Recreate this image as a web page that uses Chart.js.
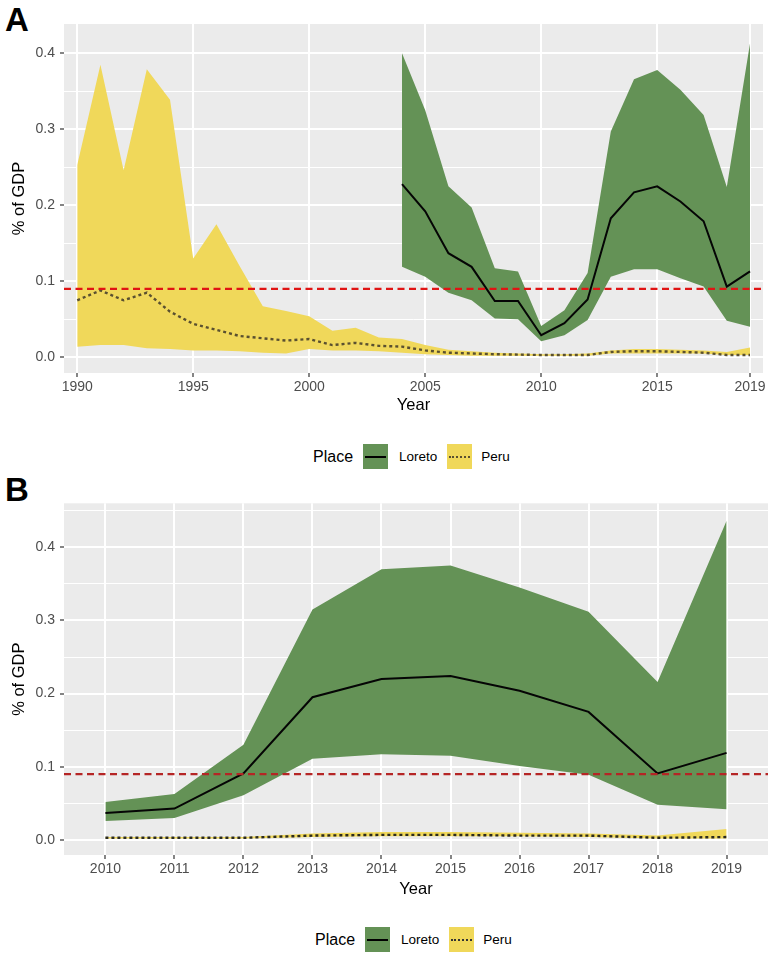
<!DOCTYPE html>
<html>
<head>
<meta charset="utf-8">
<script src="https://cdn.jsdelivr.net/npm/chart.js@4.4.1/dist/chart.umd.min.js"></script>
<style>
  body { margin: 0; background: #fff; font-family: "Liberation Sans", Arial, sans-serif; }
  .abs { position: absolute; }
  .tag { position: absolute; left: 5px; font-weight: bold; font-size: 33px; line-height: 33px; color: #000; }
  .legend { position: absolute; display: flex; align-items: center; height: 25px; color: #000; }
  .legend .ttl { font-size: 16px; margin-right: 10px; }
  .legend .lab { font-size: 13.5px; }
  .key { width: 25px; height: 25px; position: relative; }
  .key i { position: absolute; left: 2px; right: 2px; top: 11.5px; height: 0; }
</style>
</head>
<body>
<div class="tag" style="top:3px">A</div>
<div class="abs" style="left:0;top:0"><canvas id="chartA" width="777" height="415"></canvas></div>
<div class="legend" style="left:313px;top:444px">
  <span class="ttl">Place</span>
  <span class="key" style="background:rgb(100,146,86);margin-right:11px"><i style="border-top:2px solid #000"></i></span>
  <span class="lab" style="margin-right:10px">Loreto</span>
  <span class="key" style="background:rgb(240,216,90);margin-right:9px"><i style="border-top:2px dotted #5a5030"></i></span>
  <span class="lab">Peru</span>
</div>

<div class="tag" style="top:473px">B</div>
<div class="abs" style="left:0;top:480px"><canvas id="chartB" width="777" height="419"></canvas></div>
<div class="legend" style="left:315px;top:927px">
  <span class="ttl">Place</span>
  <span class="key" style="background:rgb(100,146,86);margin-right:11px"><i style="border-top:2px solid #000"></i></span>
  <span class="lab" style="margin-right:10px">Loreto</span>
  <span class="key" style="background:rgb(240,216,90);margin-right:9px"><i style="border-top:2px dotted #333"></i></span>
  <span class="lab">Peru</span>
</div>

<script>
// ---- panel A: 1990-2019 ----
const yearsA = [1990, 1991, 1992, 1993, 1994, 1995, 1996, 1997, 1998, 1999,
                2000, 2001, 2002, 2003, 2004, 2005, 2006, 2007, 2008, 2009,
                2010, 2011, 2012, 2013, 2014, 2015, 2016, 2017, 2018, 2019];
const peruMidA  = [0.075, 0.088, 0.075, 0.085, 0.060, 0.044, 0.036, 0.028, 0.025, 0.022,
                   0.024, 0.016, 0.019, 0.015, 0.014, 0.009, 0.006, 0.005, 0.004, 0.0035,
                   0.003, 0.003, 0.003, 0.007, 0.008, 0.008, 0.007, 0.006, 0.003, 0.003];
const peruHighA = [0.253, 0.385, 0.246, 0.379, 0.339, 0.130, 0.175, 0.120, 0.067, 0.061,
                   0.054, 0.035, 0.039, 0.026, 0.024, 0.016, 0.010, 0.008, 0.006, 0.005,
                   0.004, 0.004, 0.005, 0.009, 0.011, 0.011, 0.010, 0.009, 0.007, 0.013];
const peruLowA  = [0.014, 0.016, 0.016, 0.012, 0.011, 0.009, 0.009, 0.008, 0.006, 0.005,
                   0.011, 0.009, 0.009, 0.008, 0.006, 0.004, 0.003, 0.002, 0.002, 0.002,
                   0.002, 0.002, 0.002, 0.005, 0.005, 0.005, 0.005, 0.005, 0.003, 0.003];

const loretoYearsA = [2004, 2005, 2006, 2007, 2008, 2009, 2010, 2011,
                      2012, 2013, 2014, 2015, 2016, 2017, 2018, 2019];
const loretoMidA  = [0.228, 0.192, 0.137, 0.119, 0.074, 0.074, 0.029, 0.045,
                     0.076, 0.183, 0.217, 0.225, 0.205, 0.179, 0.093, 0.113];
const loretoHighA = [0.400, 0.325, 0.225, 0.197, 0.117, 0.113, 0.041, 0.062,
                     0.111, 0.297, 0.366, 0.378, 0.352, 0.319, 0.224, 0.413];
const loretoLowA  = [0.119, 0.106, 0.085, 0.075, 0.051, 0.050, 0.021, 0.029,
                     0.049, 0.106, 0.116, 0.116, 0.104, 0.093, 0.048, 0.040];

// ---- panel B: 2010-2019 ----
const yearsB = [2010, 2011, 2012, 2013, 2014, 2015, 2016, 2017, 2018, 2019];
const loretoMidB  = [0.037, 0.043, 0.091, 0.195, 0.220, 0.224, 0.204, 0.175, 0.091, 0.119];
const loretoHighB = [0.052, 0.063, 0.130, 0.315, 0.370, 0.375, 0.345, 0.312, 0.216, 0.436];
const loretoLowB  = [0.026, 0.030, 0.061, 0.111, 0.117, 0.115, 0.101, 0.089, 0.048, 0.042];
const peruMidB  = [0.003, 0.003, 0.003, 0.006, 0.007, 0.007, 0.006, 0.006, 0.003, 0.004];
const peruHighB = [0.004, 0.004, 0.004, 0.009, 0.011, 0.011, 0.010, 0.009, 0.006, 0.015];
const peruLowB  = [0.002, 0.002, 0.002, 0.004, 0.005, 0.005, 0.005, 0.004, 0.002, 0.002];

// reference line (% of GDP)
const thresholdGDP = 0.09;

// tick labels
const xTicksA = [1990, 1995, 2000, 2005, 2010, 2015, 2019];
const xTicksB = [2010, 2011, 2012, 2013, 2014, 2015, 2016, 2017, 2018, 2019];
const yTicksA = [0, 0.05, 0.1, 0.15, 0.2, 0.25, 0.3, 0.35, 0.4];
const yTicksB = [0, 0.05, 0.1, 0.15, 0.2, 0.25, 0.3, 0.35, 0.4, 0.45];

const GREEN = 'rgb(100,146,86)';
const YELLOW = 'rgb(240,216,90)';
const NONE = 'rgba(0,0,0,0)';

Chart.defaults.font.family = '"Liberation Sans", Arial, sans-serif';

const pts = (xs, ys) => xs.map((x, i) => ({ x: x, y: ys[i] }));
const isMajor = v => Math.abs(v * 10 - Math.round(v * 10)) < 1e-6;

// grey ggplot panel
const panelBg = {
  id: 'panelBg',
  beforeDraw(chart) {
    const a = chart.chartArea, ctx = chart.ctx;
    ctx.save();
    ctx.fillStyle = '#ebebeb';
    ctx.fillRect(a.left, a.top, a.right - a.left, a.bottom - a.top);
    ctx.restore();
  }
};

function band(data, fill, color, order) {
  return { data: data, fill: fill, backgroundColor: color, borderColor: NONE,
           borderWidth: 0, pointRadius: 0, order: order };
}

function drawPanel(id, p) {
  new Chart(document.getElementById(id), {
    type: 'line',
    data: {
      datasets: [
        band(pts(p.peruYears, p.peruLow), false, NONE, 4),
        band(pts(p.peruYears, p.peruHigh), '-1', YELLOW, 4),
        band(pts(p.loretoYears, p.loretoLow), false, NONE, 3),
        band(pts(p.loretoYears, p.loretoHigh), '-1', GREEN, 3),
        { data: pts(p.peruYears, p.peruMid), borderColor: p.peruLine, borderWidth: 2.4,
          borderDash: [3, 3], pointRadius: 0, fill: false, order: 2 },
        { data: pts(p.loretoYears, p.loretoMid), borderColor: '#050505', borderWidth: 2,
          pointRadius: 0, fill: false, order: 1 },
        { data: [{ x: p.xMin, y: thresholdGDP }, { x: p.xMax, y: thresholdGDP }],
          borderColor: p.red, borderWidth: 2.2, borderDash: [7, 4.5],
          pointRadius: 0, fill: false, order: 0 }
      ]
    },
    options: {
      responsive: false,
      animation: false,
      layout: { padding: { left: 0, right: p.padRight, top: p.padTop, bottom: 0 } },
      plugins: { legend: { display: false }, tooltip: { enabled: false } },
      scales: {
        x: {
          type: 'linear', min: p.xMin, max: p.xMax,
          afterBuildTicks: s => { s.ticks = p.xTicks.map(v => ({ value: v })); },
          afterFit: s => { s.height = p.xAxisH; s.paddingLeft = 0; s.paddingRight = 0; },
          ticks: { autoSkip: false, maxRotation: 0, padding: 2, color: '#4d4d4d',
                   font: { size: 14 }, callback: v => String(v) },
          grid: { color: '#fff', lineWidth: 2, tickLength: 4, tickColor: '#333', tickWidth: 1.2 },
          border: { display: false },
          title: { display: true, text: 'Year', color: '#000', font: { size: 16.5 },
                   padding: { top: 0, bottom: 0 } }
        },
        y: {
          type: 'linear', min: p.yMin, max: p.yMax,
          afterBuildTicks: s => { s.ticks = p.yTicks.map(v => ({ value: v })); },
          afterFit: s => { s.width = 64; s.paddingTop = 0; s.paddingBottom = 0; },
          ticks: { autoSkip: false, padding: 5, color: '#4d4d4d', font: { size: 14 },
                   callback: v => isMajor(v) ? v.toFixed(1) : '' },
          grid: {
            color: '#fff',
            lineWidth: c => (c.tick && isMajor(c.tick.value)) ? 2 : 1,
            tickLength: 4,
            tickWidth: 1.2,
            tickColor: c => (c.tick && isMajor(c.tick.value)) ? '#333' : NONE
          },
          border: { display: false },
          title: { display: true, text: '% of GDP', color: '#000', font: { size: 16.5 },
                   padding: { top: 10, bottom: 0 } }
        }
      }
    },
    plugins: [panelBg]
  });
}

drawPanel('chartA', {
  peruYears: yearsA, peruMid: peruMidA, peruHigh: peruHighA, peruLow: peruLowA,
  loretoYears: loretoYearsA, loretoMid: loretoMidA, loretoHigh: loretoHighA, loretoLow: loretoLowA,
  xMin: 1989.43, xMax: 2019.56, xTicks: xTicksA,
  yMin: -0.0207, yMax: 0.4386, yTicks: yTicksA,
  padRight: 14, padTop: 24, xAxisH: 42,
  red: '#e01414', peruLine: '#5a5030'
});

drawPanel('chartB', {
  peruYears: yearsB, peruMid: peruMidB, peruHigh: peruHighB, peruLow: peruLowB,
  loretoYears: yearsB, loretoMid: loretoMidB, loretoHigh: loretoHighB, loretoLow: loretoLowB,
  xMin: 2009.4, xMax: 2019.6, xTicks: xTicksB,
  yMin: -0.0205, yMax: 0.46, yTicks: yTicksB,
  padRight: 9, padTop: 23.3, xAxisH: 44,
  red: '#b52525', peruLine: '#2a2a20'
});
</script>
</body>
</html>
